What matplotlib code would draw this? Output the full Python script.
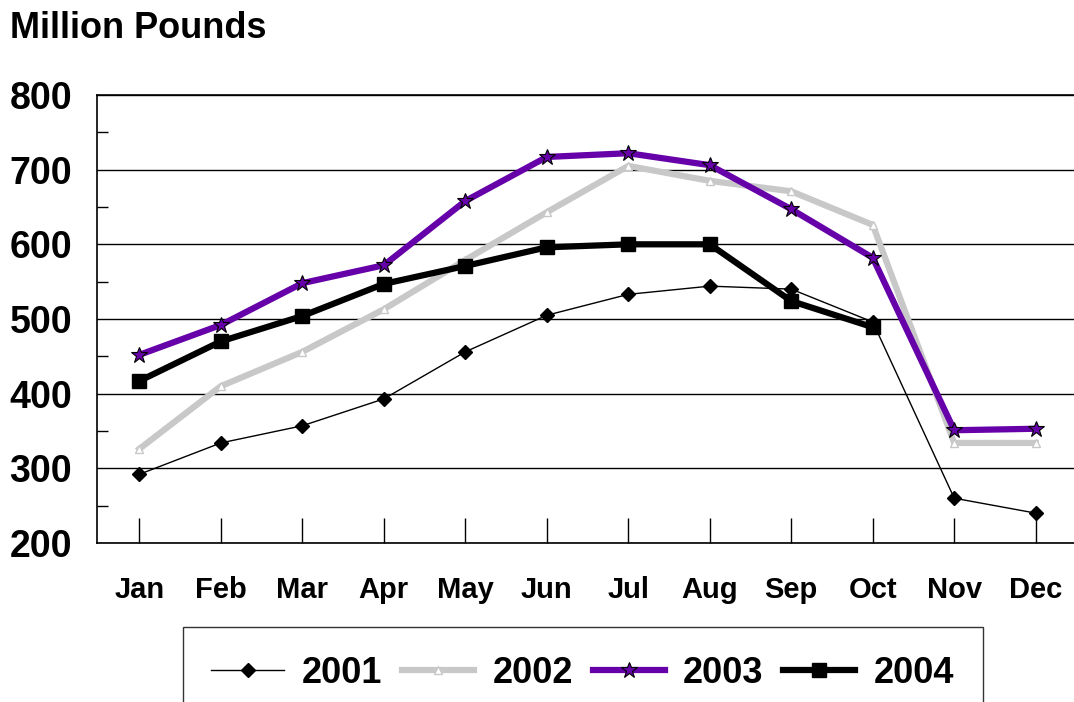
import matplotlib
matplotlib.use("Agg")
import matplotlib.pyplot as plt
from matplotlib.ticker import MultipleLocator

plt.rcParams["font.family"] = ["Liberation Sans", "DejaVu Sans"]
plt.rcParams["font.weight"] = "bold"

# monthly values, million pounds
months = ["Jan", "Feb", "Mar", "Apr", "May", "Jun",
          "Jul", "Aug", "Sep", "Oct", "Nov", "Dec"]
y2001 = [292, 334, 357, 393, 456, 505, 533, 544, 540, 496, 260, 240]
y2002 = [326, 410, 456, 513, 579, 643, 705, 685, 671, 626, 334, 334]
y2003 = [452, 492, 548, 572, 658, 717, 722, 706, 647, 582, 351, 353]
y2004 = [417, 470, 504, 547, 571, 596, 600, 600, 524, 489]

fig = plt.figure(figsize=(10.74, 7.02), dpi=100)
ax = fig.add_axes([0.0903, 0.2265, 0.912, 0.6382])

x = list(range(len(months)))

ax.plot(x, y2001, color="black", lw=1, marker="D", ms=7.5,
        mfc="black", mec="black", label="2001", zorder=3)
ax.plot(x, y2002, color="#c8c8c8", lw=4.5, marker="^", ms=6,
        mfc="white", mec="#c8c8c8", label="2002", zorder=2)
ax.plot(x, y2003, color="#6600a8", lw=4.5, marker="*", ms=12,
        mfc="#6600a8", mec="black", mew=0.8, label="2003", zorder=4)
ax.plot(x[:len(y2004)], y2004, color="black", lw=4.5, marker="s", ms=9.5,
        mfc="black", mec="black", label="2004", zorder=5)

# axes and ticks
ax.set_xlim(-0.52, 11.5)
ax.set_ylim(200, 800)
ax.yaxis.set_major_locator(MultipleLocator(100))
ax.yaxis.set_minor_locator(MultipleLocator(50))
ax.set_xticks(x)
ax.set_xticklabels(months, fontsize=21)
ax.tick_params(axis="x", direction="in", length=18, width=1, pad=24)
ax.tick_params(axis="y", which="major", length=0, labelsize=27, pad=18)
ax.tick_params(axis="y", which="minor", direction="in", length=8, width=1)
ax.grid(axis="y", color="black", lw=1)
ax.set_axisbelow(True)
for side in ["left", "bottom", "top"]:
    ax.spines[side].set_color("black")
    ax.spines[side].set_linewidth(1.2)
ax.spines["right"].set_visible(False)

fig.text(0.009, 0.96, "Million Pounds", fontsize=26, fontweight="bold",
         va="center", ha="left")

# legend box, cut off by the lower edge like in the original
leg = ax.legend(loc="upper left", bbox_to_anchor=(0.170, 0.107),
                bbox_transform=fig.transFigure, ncol=4, frameon=True,
                fancybox=False, edgecolor="black", fontsize=26,
                handlelength=2.0, columnspacing=0.55, handletextpad=0.5,
                borderpad=0.8, borderaxespad=0)
leg.get_frame().set_linewidth(1)

fig.savefig("out.png", dpi=100)
